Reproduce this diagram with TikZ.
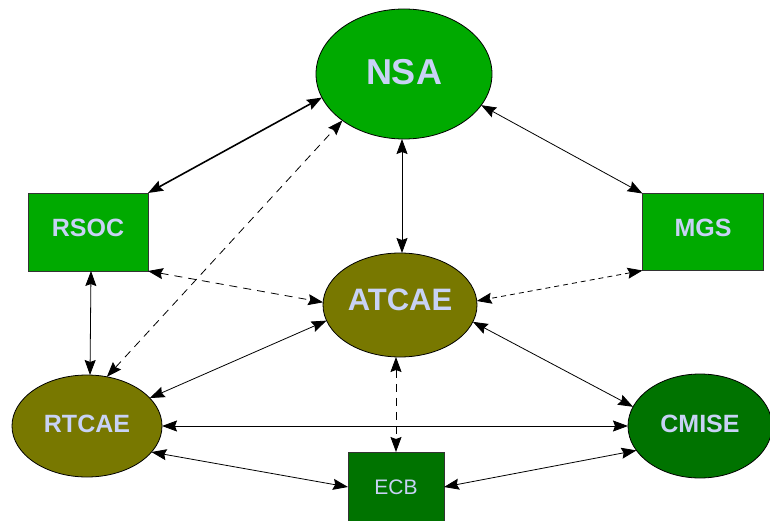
\documentclass[tikz,border=0pt]{standalone}
\usepackage{fontspec}
\setmainfont{Liberation Sans}
\usetikzlibrary{arrows.meta,shapes.geometric}
\definecolor{lightgreen}{RGB}{0,170,0}
\definecolor{darkgreen}{RGB}{0,115,0}
\definecolor{olivebrown}{RGB}{120,120,0}
\definecolor{labelblue}{RGB}{200,210,245}

\begin{document}
\begin{tikzpicture}[>={Stealth[length=15pt,width=11pt,inset=2pt]}, x=1pt, y=-1pt, line width=0.8pt,
    oval/.style={draw,ellipse,inner sep=0pt,outer sep=0pt,text=labelblue},
    box/.style={draw=black!80,rectangle,inner sep=0pt,outer sep=0pt,text=labelblue},
    longdash/.style={dash pattern=on 8pt off 6pt},
    shortdash/.style={dash pattern=on 5pt off 4pt}]
    \useasboundingbox (0,0) rectangle (770,521);
    \node[oval,fill=lightgreen,minimum width=176pt,minimum height=130pt,text depth=4pt,font=\bfseries\fontsize{36}{40}\selectfont] (NSA) at (404,74) {NSA};
    \node[oval,fill=olivebrown,minimum width=154pt,minimum height=104pt,text depth=11pt,font=\bfseries\fontsize{31}{34}\selectfont] (ATCAE) at (400,305) {ATCAE};
    \node[oval,fill=olivebrown,minimum width=150pt,minimum height=102pt,text depth=4pt,font=\bfseries\fontsize{25}{28}\selectfont] (RTCAE) at (87,426) {RTCAE};
    \node[oval,fill=darkgreen,minimum width=144pt,minimum height=104pt,text depth=5pt,font=\bfseries\fontsize{25}{28}\selectfont] (CMISE) at (700,426) {CMISE};
    \node[box,fill=lightgreen,minimum width=120pt,minimum height=78pt,text depth=8pt,font=\bfseries\fontsize{25}{28}\selectfont] (RSOC) at (88,232) {RSOC};
    \node[box,fill=lightgreen,minimum width=121pt,minimum height=77pt,text depth=8pt,font=\bfseries\fontsize{25}{28}\selectfont] (MGS) at (703,232) {MGS};
    \node[box,fill=darkgreen,minimum width=96pt,minimum height=78pt,text depth=8pt,font=\fontsize{21}{24}\selectfont] (ECB) at (396,491) {ECB};

    \draw[<->] ([xshift=-2pt]NSA.south) -- ([xshift=2pt]ATCAE.north);
    \draw[<->,line width=1.6pt] (RSOC.north east) -- (NSA.196);
    \draw[<->] (MGS.north west) -- (NSA.338);
    \draw[<->,longdash] (RSOC.south east) -- (ATCAE.178);
    \draw[<->,shortdash] (MGS.south west) -- (ATCAE.3);
    \draw[<->] ([xshift=3pt]RSOC.south) -- ([xshift=3pt]RTCAE.north);
    \draw[<->,longdash] (RTCAE.68) -- (NSA.217);
    \draw[<->] (RTCAE.24) -- (ATCAE.192);
    \draw[<->] (RTCAE.east) -- (CMISE.west);
    \draw[<->] (RTCAE.338) -- ([yshift=4pt]ECB.west);
    \draw[<->] ([yshift=4pt]ECB.east) -- (CMISE.201);
    \draw[<->,longdash] ([xshift=-4pt]ATCAE.south) -- (ECB.north);
    \draw[<->] (ATCAE.347) -- (CMISE.164);
\end{tikzpicture}
\end{document}
